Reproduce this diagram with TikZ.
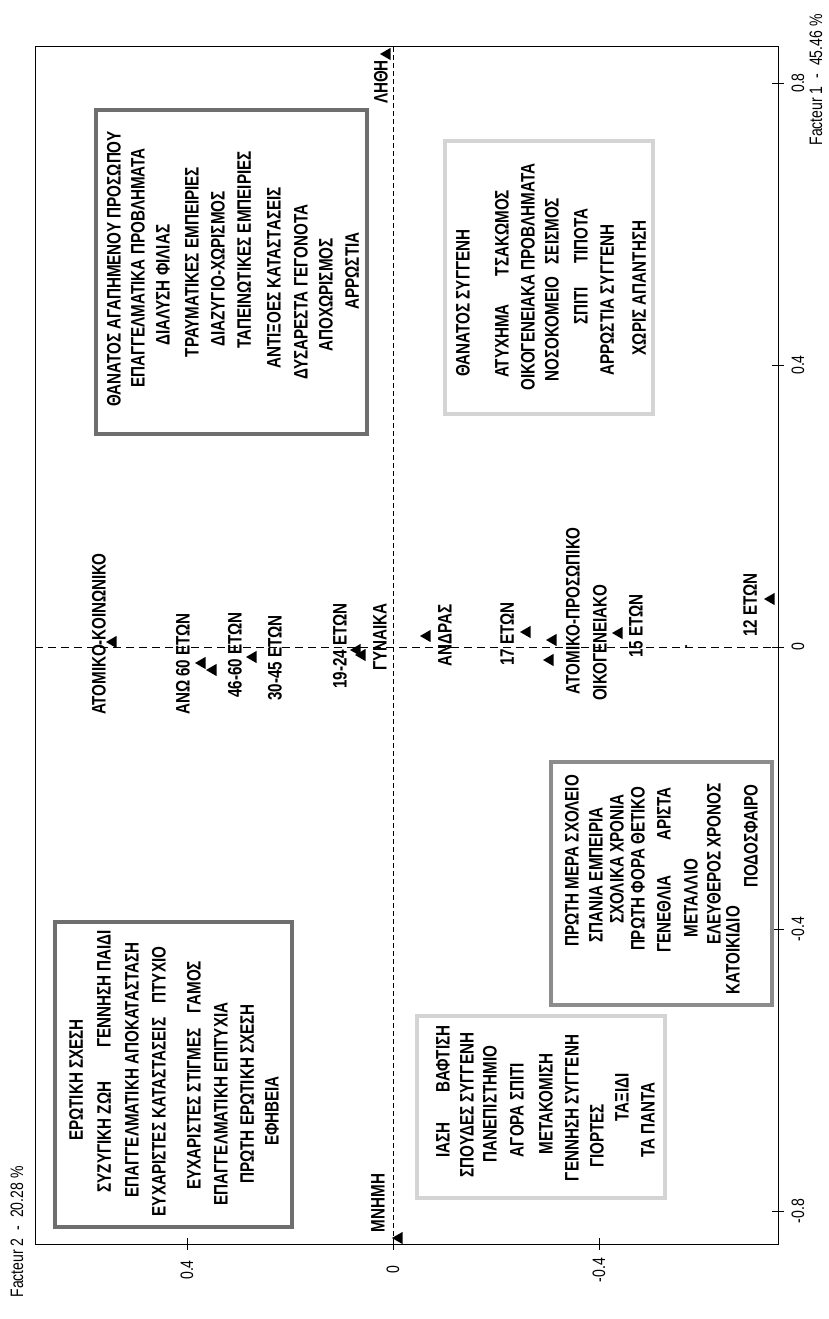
\documentclass[tikz,border=0pt]{standalone}
\usepackage{fontspec}
\setmainfont[FakeStretch=0.78]{Liberation Sans}
\usetikzlibrary{shapes.geometric}

\begin{document}
\begin{tikzpicture}[x=1pt,y=-1pt,
		lbl/.style={rotate=90,inner sep=0pt,font=\bfseries\fontsize{19.5}{21}\selectfont},
		axlbl/.style={rotate=90,inner sep=0pt,font=\fontsize{18}{19}\selectfont},
		tri/.style={regular polygon,regular polygon sides=3,shape border rotate=90,fill,inner sep=0pt,minimum size=14pt},
		darkbox/.style={draw=black!57,line width=3.5pt},
		midbox/.style={draw=black!45,line width=3.5pt},
		lightbox/.style={draw=black!17,line width=3.5pt}]
		\useasboundingbox (0,0) rectangle (828,1319);

		% frame and axes
		\draw[line width=1pt] (35,47) rectangle (778,1244);
		\coordinate (AxTop)   at (393,47);
		\coordinate (AxBot)   at (393,1244);
		\coordinate (AxLeft)  at (35,647);
		\coordinate (AxRight) at (778,647);
		\draw[line width=.9pt,dash pattern=on 5pt off 3pt] (AxTop)  -- (AxBot);
		\draw[line width=.9pt,dash pattern=on 8pt off 5pt] (AxLeft) -- (AxRight);
		\foreach \v/\y [count=\i] in {0.8/83,0.4/365,0/647,-0.4/929,-0.8/1211} {
			\draw (772,\y) -- (784,\y);
			\node[axlbl] (TickR\i) at (798,\y) {\v};
		}
		\foreach \v/\x [count=\i] in {0.4/187,0/393,-0.4/599} {
			\draw (\x,1238) -- (\x,1250);
			\node[axlbl] (TickB\i) at (\x,1270) {\v};
		}
		\node[axlbl] (FactOne) at (816,80)   {Facteur 1\ \ -\ \ 45.46 \%};
		\node[axlbl] (FactTwo) at (17,1232)  {Facteur 2\ \ -\ \ 20.28 \%};

		% groups
		\draw[darkbox]  (96,110)  rectangle (367,434);
		\draw[lightbox] (445,141) rectangle (653,414);
		\draw[midbox]   (551,762) rectangle (772,1005);
		\draw[darkbox]  (55,922)  rectangle (292,1227);
		\draw[lightbox] (417,1016) rectangle (665,1198);

		\node[lbl] (DeathLoved)    at (114,269) {ΘΑΝΑΤΟΣ ΑΓΑΠΗΜΕΝΟΥ ΠΡΟΣΩΠΟΥ};
		\node[lbl] (WorkProblems)  at (138,268) {ΕΠΑΓΓΕΛΜΑΤΙΚΑ ΠΡΟΒΛΗΜΑΤΑ};
		\node[lbl] (FriendEnd)     at (163,285) {ΔΙΑΛΥΣΗ ΦΙΛΙΑΣ};
		\node[lbl] (Trauma)        at (192,262) {ΤΡΑΥΜΑΤΙΚΕΣ ΕΜΠΕΙΡΙΕΣ};
		\node[lbl] (Divorce)       at (218,269) {ΔΙΑΖΥΓΙΟ-ΧΩΡΙΣΜΟΣ};
		\node[lbl] (Humiliation)   at (244,250) {ΤΑΠΕΙΝΩΤΙΚΕΣ ΕΜΠΕΙΡΙΕΣ};
		\node[lbl] (Unworthy)      at (274,278) {ΑΝΤΙΞΟΕΣ ΚΑΤΑΣΤΑΣΕΙΣ};
		\node[lbl] (BadEvents)     at (301,292) {ΔΥΣΑΡΕΣΤΑ ΓΕΓΟΝΟΤΑ};
		\node[lbl] (Leaving)       at (326,295) {ΑΠΟΧΩΡΙΣΜΟΣ};
		\node[lbl] (Illness)       at (352,271) {ΑΡΡΩΣΤΙΑ};

		\node[lbl] (DeathKin)      at (463,303) {ΘΑΝΑΤΟΣ ΣΥΓΓΕΝΗ};
		\node[lbl] (Accident)      at (502,341) {ΑΤΥΧΗΜΑ};
		\node[lbl] (Quarrel)       at (502,233) {ΤΣΑΚΩΜΟΣ};
		\node[lbl] (FamProblems)   at (528,277) {ΟΙΚΟΓΕΝΕΙΑΚΑ ΠΡΟΒΛΗΜΑΤΑ};
		\node[lbl] (Hospital)      at (552,329) {ΝΟΣΟΚΟΜΕΙΟ};
		\node[lbl] (Quake)         at (552,231) {ΣΕΙΣΜΟΣ};
		\node[lbl] (HomeNeg)       at (581,306) {ΣΠΙΤΙ};
		\node[lbl] (Nothing)       at (581,236) {ΤΙΠΟΤΑ};
		\node[lbl] (KinIllness)    at (607,300) {ΑΡΡΩΣΤΙΑ ΣΥΓΓΕΝΗ};
		\node[lbl] (NoAnswer)      at (639,288) {ΧΩΡΙΣ ΑΠΑΝΤΗΣΗ};

		\node[lbl] (SchoolDay)     at (572,861) {ΠΡΩΤΗ ΜΕΡΑ ΣΧΟΛΕΙΟ};
		\node[lbl] (RareExp)       at (596,875) {ΣΠΑΝΙΑ ΕΜΠΕΙΡΙΑ};
		\node[lbl] (SchoolYears)   at (617,859) {ΣΧΟΛΙΚΑ ΧΡΟΝΙΑ};
		\node[lbl] (FirstPositive) at (638,869) {ΠΡΩΤΗ ΦΟΡΑ ΘΕΤΙΚΟ};
		\node[lbl] (Birthday)      at (664,914) {ΓΕΝΕΘΛΙΑ};
		\node[lbl] (TopMarks)      at (664,814) {ΑΡΙΣΤΑ};
		\node[lbl] (Medal)         at (691,898) {ΜΕΤΑΛΛΙΟ};
		\node[lbl] (FreeTime)      at (714,864) {ΕΛΕΥΘΕΡΟΣ ΧΡΟΝΟΣ};
		\node[lbl] (Pet)           at (733,950) {ΚΑΤΟΙΚΙΔΙΟ};
		\node[lbl] (Football)      at (751,836) {ΠΟΔΟΣΦΑΙΡΟ};

		\node[lbl] (LoveAffair)    at (76,1080)  {ΕΡΩΤΙΚΗ ΣΧΕΣΗ};
		\node[lbl] (MarriedLife)   at (104,1137) {ΣΥΖΥΓΙΚΗ ΖΩΗ};
		\node[lbl] (ChildBirth)    at (104,989)  {ΓΕΝΝΗΣΗ ΠΑΙΔΙ};
		\node[lbl] (JobSettled)    at (132,1070) {ΕΠΑΓΓΕΛΜΑΤΙΚΗ ΑΠΟΚΑΤΑΣΤΑΣΗ};
		\node[lbl] (NiceSituations) at (159,1117) {ΕΥΧΑΡΙΣΤΕΣ ΚΑΤΑΣΤΑΣΕΙΣ};
		\node[lbl] (Degree)        at (159,975)  {ΠΤΥΧΙΟ};
		\node[lbl] (NiceMoments)   at (194,1109) {ΕΥΧΑΡΙΣΤΕΣ ΣΤΙΓΜΕΣ};
		\node[lbl] (Wedding)       at (194,987)  {ΓΑΜΟΣ};
		\node[lbl] (JobSuccess)    at (221,1104) {ΕΠΑΓΓΕΛΜΑΤΙΚΗ ΕΠΙΤΥΧΙΑ};
		\node[lbl] (FirstLove)     at (247,1094) {ΠΡΩΤΗ ΕΡΩΤΙΚΗ ΣΧΕΣΗ};
		\node[lbl] (Youth)         at (272,1111) {ΕΦΗΒΕΙΑ};

		\node[lbl] (Healing)       at (443,1140) {ΙΑΣΗ};
		\node[lbl] (Baptism)       at (443,1059) {ΒΑΦΤΙΣΗ};
		\node[lbl] (KinStudies)    at (467,1105) {ΣΠΟΥΔΕΣ ΣΥΓΓΕΝΗ};
		\node[lbl] (University)    at (490,1104) {ΠΑΝΕΠΙΣΤΗΜΙΟ};
		\node[lbl] (HouseBuy)      at (517,1110) {ΑΓΟΡΑ ΣΠΙΤΙ};
		\node[lbl] (Moving)        at (546,1104) {ΜΕΤΑΚΟΜΙΣΗ};
		\node[lbl] (KinBirth)      at (572,1108) {ΓΕΝΝΗΣΗ ΣΥΓΓΕΝΗ};
		\node[lbl] (Holidays)      at (597,1136) {ΓΙΟΡΤΕΣ};
		\node[lbl] (Trip)          at (622,1097) {ΤΑΞΙΔΙ};
		\node[lbl] (Everything)    at (648,1120) {ΤΑ ΠΑΝΤΑ};

		% points
		\node[lbl] (SocialTxt)  at (99,634)   {ΑΤΟΜΙΚΟ-ΚΟΙΝΩΝΙΚΟ};
		\node[lbl] (Over60Txt)  at (183,664)  {ΑΝΩ 60 ΕΤΩΝ};
		\node[lbl] (Age46Txt)   at (235,655)  {46-60 ΕΤΩΝ};
		\node[lbl] (Age30Txt)   at (275,658)  {30-45 ΕΤΩΝ};
		\node[lbl] (Age19Txt)   at (340,646)  {19-24 ΕΤΩΝ};
		\node[lbl] (WomanTxt)   at (380,637)  {ΓΥΝΑΙΚΑ};
		\node[lbl] (ManTxt)     at (445,635)  {ΑΝΔΡΑΣ};
		\node[lbl] (Age17Txt)   at (507,634)  {17 ΕΤΩΝ};
		\node[lbl] (PersonTxt)  at (573,611)  {ΑΤΟΜΙΚΟ-ΠΡΟΣΩΠΙΚΟ};
		\node[lbl] (FamilyTxt)  at (600,643)  {ΟΙΚΟΓΕΝΕΙΑΚΟ};
		\node[lbl] (Age15Txt)   at (636,626)  {15 ΕΤΩΝ};
		\node[lbl] (Age12Txt)   at (750,605)  {12 ΕΤΩΝ};
		\node[lbl] (ForgetTxt)  at (381,82)   {ΛΗΘΗ};
		\node[lbl] (MemoryTxt)  at (378,1203) {ΜΝΗΜΗ};

		\node[tri] (Social)  at (113,642) {};
		\node[tri] (Over60)  at (202,663) {};
		\node[tri] (Age46)   at (213,670) {};
		\node[tri] (Age30)   at (253,657) {};
		\node[tri] (Age19)   at (357,650) {};
		\node[tri] (Woman)   at (362,655) {};
		\node[tri] (Man)     at (427,636) {};
		\node[tri] (Age17)   at (527,632) {};
		\node[tri] (Person)  at (553,640) {};
		\node[tri] (Family)  at (550,660) {};
		\node[tri] (Age15)   at (619,633) {};
		\node[tri] (Age12)   at (771,599) {};
		\node[tri] (Forget)  at (387,54)  {};
		\node[tri] (Memory)  at (399,1238) {};
		\node[circle,fill,inner sep=0pt,minimum size=2.5pt] (Small) at (686,646) {};
	\end{tikzpicture}
\end{document}
